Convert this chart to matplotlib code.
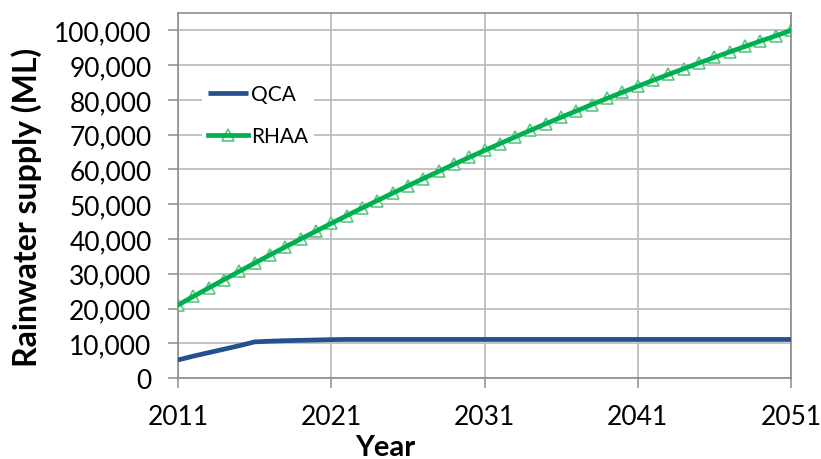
import numpy as np
import matplotlib
matplotlib.use('Agg')
from matplotlib import pyplot as plt
from matplotlib.ticker import FuncFormatter

# Data
years = list(range(2011, 2052))
qca = [5200, 6300, 7300, 8300, 9300, 10400, 10600, 10750, 10850, 10950,
       11050, 11100, 11100, 11100, 11100, 11100, 11100, 11100, 11100, 11100,
       11100, 11100, 11100, 11100, 11100, 11100, 11100, 11100, 11100, 11100,
       11100, 11100, 11100, 11100, 11100, 11100, 11100, 11100, 11100, 11100,
       11100]
rhaa = [21000, 23460, 25900, 28300, 30690, 33050, 35390, 37700, 39980, 42240,
        44480, 46690, 48870, 51030, 53170, 55280, 57360, 59420, 61460, 63470,
        65450, 67410, 69350, 71260, 73140, 75000, 76840, 78650, 80430, 82190,
        83930, 85640, 87320, 88980, 90620, 92230, 93810, 95370, 96910, 98420,
        100000]
xticks = [2011, 2021, 2031, 2041, 2051]

plt.rcParams['font.family'] = ['Lato', 'DejaVu Sans']

fig = plt.figure(figsize=(8.21, 4.6), dpi=100)
ax = fig.add_axes([0.2168, 0.176, 0.7467, 0.7936])

qca_line, = ax.plot(years, qca, color='#24508C', lw=3.4, solid_capstyle='butt', zorder=3)
rhaa_mk, = ax.plot(years, rhaa, ls='none', marker='^', ms=8, mfc='white',
                   mec='#5CC783', mew=1.2, zorder=2)
rhaa_line, = ax.plot(years, rhaa, color='#00B050', lw=3.4, zorder=4)

ax.set_xlim(2011, 2051)
ax.set_ylim(0, 105000)
ax.set_xticks(xticks)
ax.set_yticks(np.arange(0, 100001, 10000))
ax.yaxis.set_major_formatter(FuncFormatter(lambda v, p: f'{int(v):,}'))

ax.grid(True, color='#BDBDBD', lw=1.3, zorder=0)
ax.set_axisbelow(True)
for s in ax.spines.values():
    s.set_color('#8C8C8C')
    s.set_linewidth(1.2)
ax.tick_params(axis='both', direction='out', length=7, width=1.1, color='#8C8C8C',
               labelsize=19, labelcolor='black')
ax.tick_params(axis='x', pad=12)
ax.tick_params(axis='y', pad=12)

ax.set_xlabel('Year', fontsize=21, fontweight='bold')
ax.xaxis.set_label_coords(0.338, -0.152)
ax.set_ylabel('Rainwater supply (ML)', fontsize=23, fontweight='bold')
ax.yaxis.set_label_coords(-0.222, 0.471)

leg = ax.legend([qca_line, (rhaa_mk, rhaa_line)], ['QCA', 'RHAA'],
                loc='upper left', bbox_to_anchor=(0.022, 0.85), frameon=True,
                framealpha=1, edgecolor='none', fontsize=15, handlelength=1.9,
                handletextpad=0.15, labelspacing=1.05, borderpad=0.3)

fig.savefig('out.png', dpi=100)
